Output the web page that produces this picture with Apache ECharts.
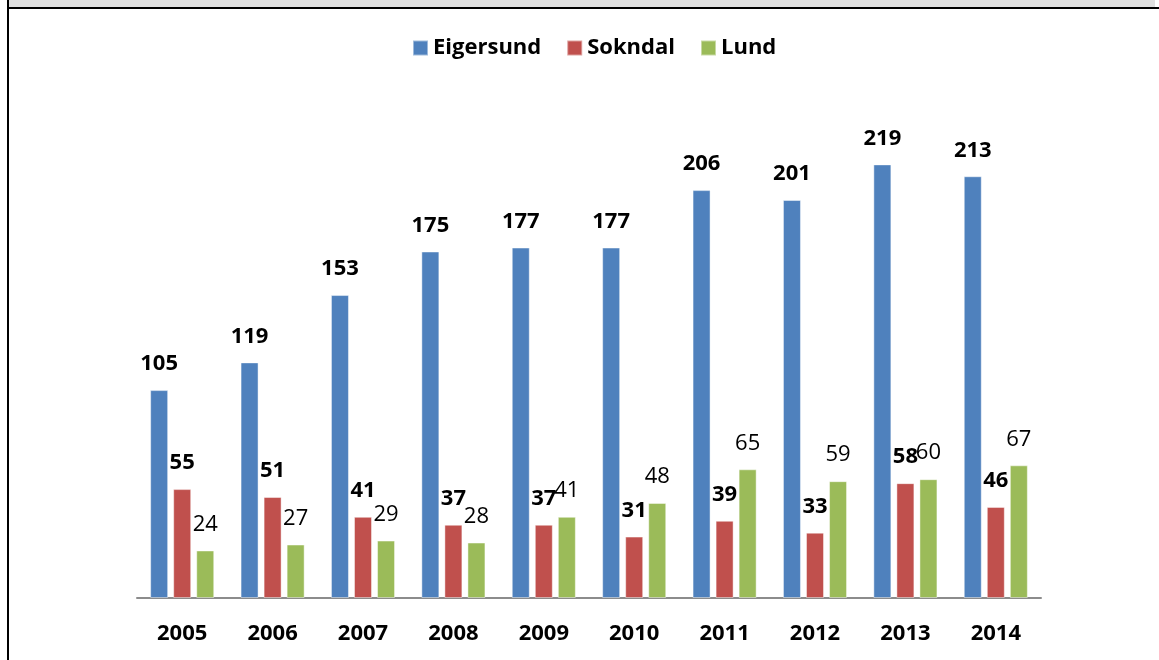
<!DOCTYPE html>
<html>
<head>
<meta charset="utf-8">
<title>Eigersund Sokndal Lund</title>
<script src="https://cdn.jsdelivr.net/npm/echarts@6/dist/echarts.min.js"></script>
<style>
    html, body { margin: 0; padding: 0; background: #fff; overflow: hidden; }
    #main { position: absolute; left: 0; top: 0; width: 1159px; height: 660px; }
    .deco { position: absolute; pointer-events: none; }
</style>
</head>
<body>
<div id="main"></div>
<div class="deco" style="left:9px;top:0;width:1146px;height:7px;background:#e0e0e0;"></div>
<div class="deco" style="left:7px;top:7px;width:1152px;height:2px;background:#000;"></div>
<div class="deco" style="left:7px;top:0;width:2px;height:660px;background:#000;"></div>
<script>
var years = ['2005','2006','2007','2008','2009','2010','2011','2012','2013','2014'];
var eigersund = [105,119,153,175,177,177,206,201,219,213];
var sokndal = [55,51,41,37,37,31,39,33,58,46];
var lund = [24,27,29,28,41,48,65,59,60,67];

var Chart = {
    dom: document.getElementById('main'),
    chart: null,
    font: '"Open Sans", "Noto Sans", sans-serif'
}

Chart.makeSeries = function(name, data, color, bold) {
    return {
        name: name,
        type: 'bar',
        data: data,
        barWidth: 18,
        barGap: '28%',
        itemStyle: {
            color: color,
            borderColor: 'rgba(255,255,255,0.45)',
            borderWidth: 1
        },
        label: {
            show: true,
            position: 'top',
            distance: 15,
            color: '#000',
            fontFamily: Chart.font,
            fontSize: 22,
            fontWeight: bold ? 'bold' : 'normal'
        }
    };
}

Chart.init = function() {
    Chart.chart = echarts.init(Chart.dom);
    Chart.chart.setOption({
        animation: false,
        backgroundColor: 'transparent',
        legend: {
            left: 412,
            top: 37,
            padding: 0,
            itemWidth: 15,
            itemHeight: 15,
            itemGap: 25,
            icon: 'rect',
            textStyle: {
                color: '#000',
                fontFamily: Chart.font,
                fontSize: 22,
                fontWeight: 'bold'
            },
            data: ['Eigersund', 'Sokndal', 'Lund']
        },
        grid: {
            left: 137,
            right: 118,
            top: 103,
            bottom: 62
        },
        xAxis: {
            type: 'category',
            data: years,
            axisLine: { lineStyle: { color: '#8c8c8c', width: 2 } },
            axisTick: { show: false },
            axisLabel: {
                color: '#000',
                margin: 25,
                fontFamily: Chart.font,
                fontSize: 22,
                fontWeight: 'bold'
            }
        },
        yAxis: {
            type: 'value',
            min: 0,
            max: 250,
            show: false,
            splitLine: { show: false }
        },
        series: [
            Chart.makeSeries('Eigersund', eigersund, '#4f81bd', true),
            Chart.makeSeries('Sokndal', sokndal, '#c0504d', true),
            Chart.makeSeries('Lund', lund, '#9bbb59', false)
        ]
    });
}

Chart.init();
</script>
</body>
</html>
